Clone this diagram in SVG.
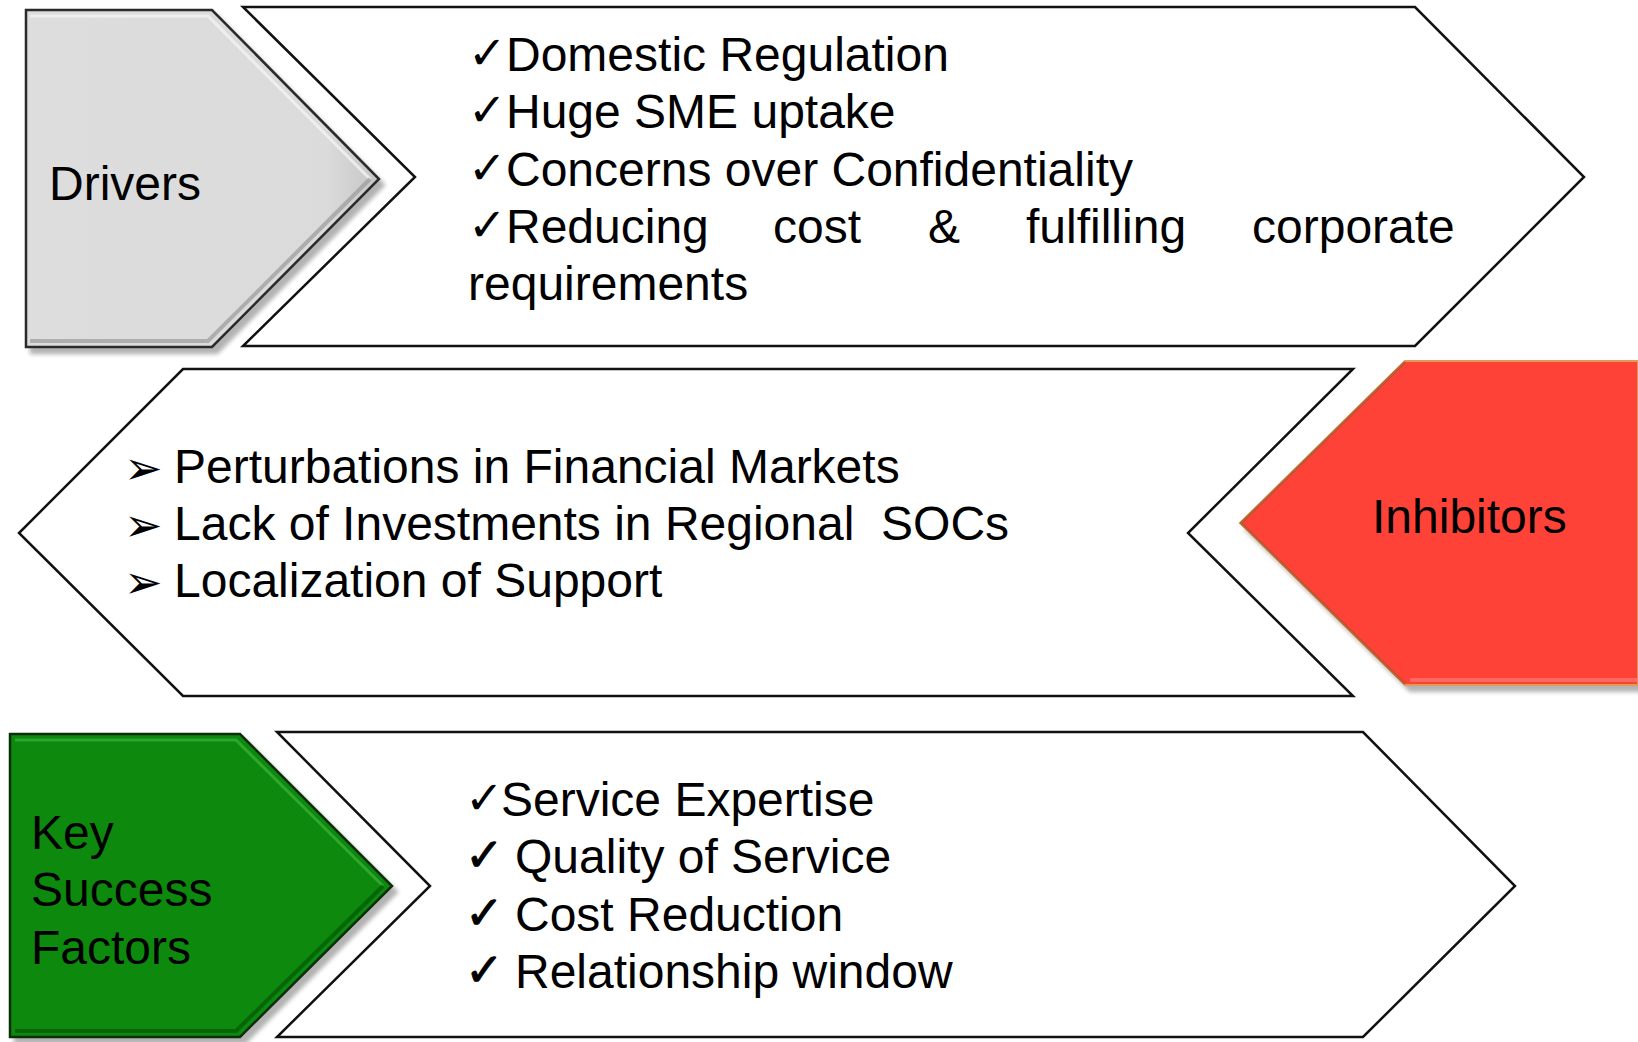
<svg xmlns="http://www.w3.org/2000/svg" width="1638" height="1042" viewBox="0 0 1638 1042">
<style>
.txt{font-family:"Liberation Sans",Arial,sans-serif;font-size:48px;fill:#000}
.sym{font-family:"DejaVu Sans",sans-serif;font-size:46px;fill:#000}
.bul{font-family:"DejaVu Sans",sans-serif;font-size:46px;fill:#000}
.chev{fill:#fff;stroke:#111;stroke-width:2.5;stroke-linejoin:miter}
</style>
<defs>
<filter id="shadow" x="-10%" y="-10%" width="130%" height="130%">
<feGaussianBlur in="SourceAlpha" stdDeviation="2"/>
<feOffset dx="5" dy="6" result="o"/>
<feComponentTransfer><feFuncA type="linear" slope="0.3"/></feComponentTransfer>
<feMerge><feMergeNode/><feMergeNode in="SourceGraphic"/></feMerge>
</filter>
<linearGradient id="gGray" x1="0" y1="0" x2="1" y2="0">
<stop offset="0" stop-color="#dcdddc"/><stop offset="0.85" stop-color="#dadbda"/><stop offset="1" stop-color="#c4c5c4"/>
</linearGradient>
</defs>

<g id="drivers">
<polygon points="26,10 212,10 379,179 212,347 26,347" fill="url(#gGray)" stroke="#2a2a2a" stroke-width="2.5" filter="url(#shadow)"/>
<polyline points="30,16 208,16 370,179" fill="none" stroke="#f2f2f2" stroke-width="3" opacity="0.8"/>
<polyline points="370,179 208,341 30,341" fill="none" stroke="#9a9a9a" stroke-width="4" opacity="0.7"/>
<text class="txt" x="49" y="200">Drivers</text>
</g>

<g id="drivers-list">
<polygon class="chev" points="243,7 1415,7 1584,177 1415,346 243,346 415,177"/>
<text class="sym" x="468" y="69">✓</text><text class="txt" x="506" y="71">Domestic Regulation</text>
<text class="sym" x="468" y="126">✓</text><text class="txt" x="506" y="128">Huge SME uptake</text>
<text class="sym" x="468" y="184">✓</text><text class="txt" x="506" y="186">Concerns over Confidentiality</text>
<text class="sym" x="468" y="241">✓</text><text class="txt" x="506" y="243">Reducing</text>
<text class="txt" x="773" y="243">cost</text>
<text class="txt" x="928" y="243">&amp;</text>
<text class="txt" x="1026" y="243">fulfilling</text>
<text class="txt" x="1252" y="243">corporate</text>
<text class="txt" x="468" y="300">requirements</text>
</g>

<g id="inhibitors-list">
<polygon class="chev" points="183,369 1353,369 1188,533 1353,696 183,696 19,533"/>
<text class="bul" x="124" y="484">➢</text><text class="txt" x="174" y="483">Perturbations in Financial Markets</text>
<text class="bul" x="124" y="541">➢</text><text class="txt" x="174" y="540" xml:space="preserve">Lack of Investments in Regional  SOCs</text>
<text class="bul" x="124" y="598">➢</text><text class="txt" x="174" y="597">Localization of Support</text>
</g>

<g id="inhibitors">
<polygon points="1405,361 1638,361 1638,685 1405,685 1240,523" fill="#ff4338" stroke="#e39a55" stroke-width="2" filter="url(#shadow)"/>
<polyline points="1405,362 1241,523 1405,684" fill="none" stroke="#a0522d" stroke-width="2.5" opacity="0.7"/>
<line x1="1410" y1="680" x2="1638" y2="680" stroke="#ff7a70" stroke-width="4" opacity="0.7"/>
<text class="txt" x="1372" y="533">Inhibitors</text>
</g>

<g id="ksf">
<polygon points="10,734 240,734 392,886 240,1037 10,1037" fill="#078a0e" stroke="#0c2d0c" stroke-width="2.5" filter="url(#shadow)"/>
<polyline points="15,740 236,740 383,886" fill="none" stroke="#3fb23f" stroke-width="3" opacity="0.7"/>
<polyline points="383,886 236,1031 15,1031" fill="none" stroke="#045c08" stroke-width="4" opacity="0.8"/>
<text class="txt" x="31" y="849">Key</text>
<text class="txt" x="31" y="906">Success</text>
<text class="txt" x="31" y="964">Factors</text>
</g>

<g id="ksf-list">
<polygon class="chev" points="277,732 1363,732 1515,886 1363,1037 277,1037 430,886"/>
<text class="sym" x="465" y="814">✓</text><text class="txt" x="501" y="816">Service Expertise</text>
<text class="sym" x="465" y="871" stroke="#000" stroke-width="1">✓</text><text class="txt" x="515" y="873">Quality of Service</text>
<text class="sym" x="465" y="929" stroke="#000" stroke-width="1">✓</text><text class="txt" x="515" y="931">Cost Reduction</text>
<text class="sym" x="465" y="986" stroke="#000" stroke-width="1">✓</text><text class="txt" x="515" y="988">Relationship window</text>
</g>

<g id="connectors"></g>
</svg>
